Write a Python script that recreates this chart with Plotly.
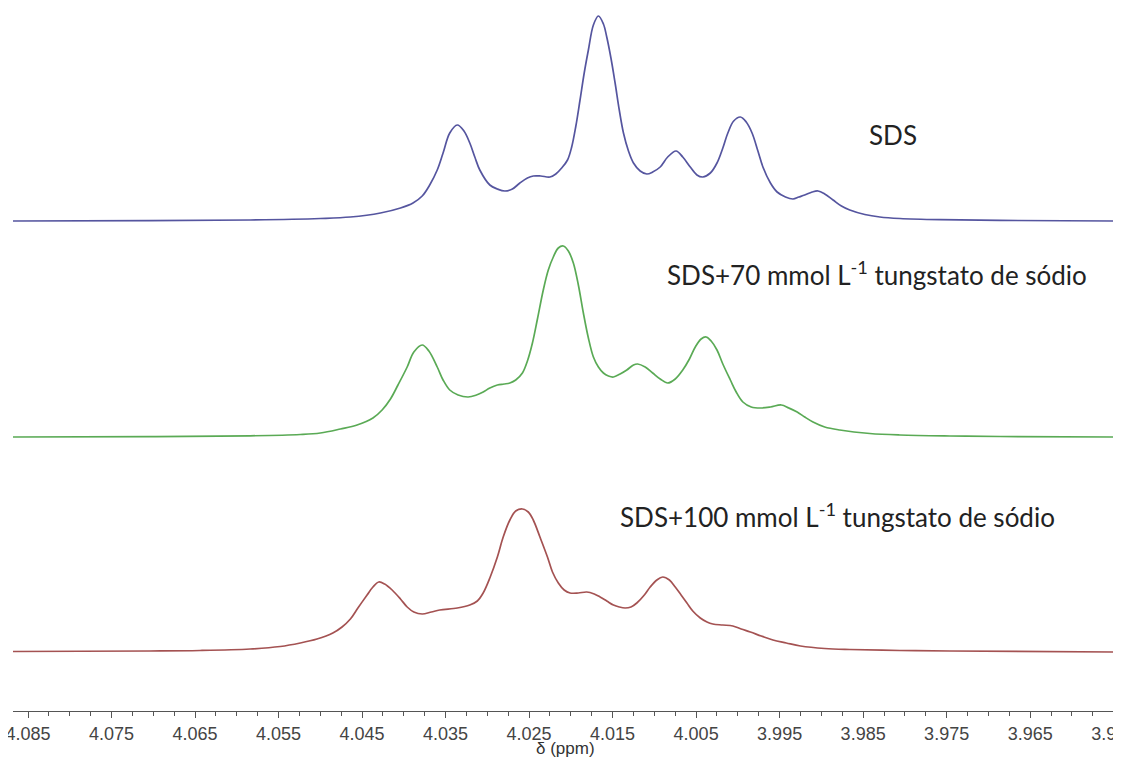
import plotly.graph_objects as go

# ---- data (ppm, intensity above each trace's own baseline) ----
sds_ppm = [4.0868, 4.0704, 4.0584, 4.0500, 4.0464, 4.0428, 4.0404, 4.0389, 4.0378, 4.0369,
           4.0360, 4.0353, 4.0345, 4.0336, 4.0328, 4.0321, 4.0315, 4.0309, 4.0297, 4.0288,
           4.0279, 4.0270, 4.0261, 4.0252, 4.0245, 4.0236, 4.0225, 4.0218, 4.0211, 4.0204,
           4.0199, 4.0194, 4.0189, 4.0184, 4.0179, 4.0173, 4.0167, 4.0161, 4.0157, 4.0152,
           4.0147, 4.0142, 4.0137, 4.0131, 4.0125, 4.0117, 4.0109, 4.0102, 4.0093, 4.0084,
           4.0074, 4.0066, 4.0057, 4.0049, 4.0042, 4.0033, 4.0025, 4.0018, 4.0012, 4.0005,
           3.9997, 3.9990, 3.9983, 3.9976, 3.9970, 3.9961, 3.9953, 3.9943, 3.9934, 3.9927,
           3.9920, 3.9911, 3.9904, 3.9896, 3.9886, 3.9876, 3.9866, 3.9848, 3.9830, 3.9806,
           3.9758, 3.9686, 3.9546]
sds_int = [0, 0.3, 1, 2.5, 4, 8, 13, 18, 25, 36,
           51, 68, 88, 96, 90, 78, 64, 51, 36, 32,
           30, 32, 38, 43, 45, 45, 44, 47, 53, 61,
           74, 95, 121, 148, 171, 196, 205, 197, 184, 163,
           138, 111, 88, 70, 58, 50, 47, 49, 54, 64,
           70, 64, 54, 46, 44, 48, 58, 73, 88, 100,
           104, 99, 88, 70, 54, 38, 29, 24, 22, 24,
           26, 29, 30, 27, 21, 15, 11, 6.5, 4, 2.5,
           1.3, 0.6, 0]

w70_ppm = [4.0868, 4.0704, 4.0584, 4.0524, 4.0500, 4.0476, 4.0456, 4.0437, 4.0426, 4.0416,
           4.0407, 4.0396, 4.0388, 4.0378, 4.0370, 4.0360, 4.0353, 4.0345, 4.0335, 4.0323,
           4.0313, 4.0305, 4.0297, 4.0288, 4.0280, 4.0273, 4.0266, 4.0258, 4.0252, 4.0246,
           4.0240, 4.0233, 4.0227, 4.0221, 4.0215, 4.0209, 4.0203, 4.0197, 4.0191, 4.0185,
           4.0179, 4.0173, 4.0167, 4.0161, 4.0155, 4.0149, 4.0141, 4.0133, 4.0125, 4.0120,
           4.0111, 4.0102, 4.0093, 4.0084, 4.0075, 4.0066, 4.0058, 4.0051, 4.0044, 4.0038,
           4.0032, 4.0025, 4.0018, 4.0009, 4.0002, 3.9994, 3.9984, 3.9973, 3.9961, 3.9948,
           3.9939, 3.9929, 3.9920, 3.9910, 3.9896, 3.9878, 3.9842, 3.9806, 3.9746, 3.9686,
           3.9546]
w70_int = [0, 0.4, 1.2, 2.5, 4, 8, 12, 19, 27, 38,
           52, 70, 85, 92, 86, 70, 57, 47, 42, 40,
           42, 45, 49, 52, 53, 54, 57, 64, 76, 94,
           118, 147, 167, 180, 189, 191, 186, 174, 152, 124,
           99, 80, 70, 64, 61, 60, 63, 67, 72, 73,
           70, 64, 58, 54, 58, 67, 78, 90, 98, 100,
           96, 87, 73, 57, 45, 35, 30, 29, 30, 32,
           29, 25, 20, 15, 10, 7, 3.5, 2, 1, 0.5,
           0]

w100_ppm = [4.0868, 4.0704, 4.0644, 4.0584, 4.0548, 4.0524, 4.0504, 4.0485, 4.0474, 4.0464,
            4.0455, 4.0444, 4.0437, 4.0430, 4.0423, 4.0414, 4.0404, 4.0396, 4.0388, 4.0378,
            4.0367, 4.0357, 4.0336, 4.0321, 4.0312, 4.0305, 4.0297, 4.0288, 4.0281, 4.0273,
            4.0266, 4.0258, 4.0251, 4.0245, 4.0237, 4.0228, 4.0222, 4.0215, 4.0208, 4.0201,
            4.0191, 4.0181, 4.0172, 4.0165, 4.0157, 4.0149, 4.0142, 4.0135, 4.0128, 4.0121,
            4.0112, 4.0105, 4.0097, 4.0090, 4.0082, 4.0075, 4.0068, 4.0061, 4.0054, 4.0045,
            4.0037, 4.0030, 4.0018, 4.0006, 3.9996, 3.9985, 3.9972, 3.9958, 3.9942, 3.9925,
            3.9896, 3.9866, 3.9806, 3.9746, 3.9546]
w100_int = [0.5, 1, 1.5, 3, 5.5, 9, 13, 19, 25, 33,
            44, 57, 65, 70, 68, 62, 53, 45, 40, 38,
            40, 42, 44, 47, 51, 59, 74, 95, 115, 132,
            141, 143, 140, 132, 115, 95, 80, 69, 62, 59,
            59, 60, 58, 55, 51, 47, 45, 44, 45, 49,
            57, 65, 72, 75, 72, 65, 57, 49, 41, 34,
            30, 28, 27, 26, 23, 20, 16, 12, 9, 6,
            3.5, 2.5, 1.5, 1, 0]

labels = ["SDS",
          "SDS+70 mmol L<sup>-1</sup> tungstato de sódio",
          "SDS+100 mmol L<sup>-1</sup> tungstato de sódio"]

# stacking offsets (baseline of each trace), label anchors and styles
offsets = [490, 274, 59]
label_pos = [(3.9845, 86), (4.0087, 164), (4.0143, 137)]
colors = ["#55559f", "#5aaa55", "#a45252"]

fig = go.Figure()
series = [(sds_ppm, sds_int), (w70_ppm, w70_int), (w100_ppm, w100_int)]
for (xs, ys), off, col, name in zip(series, offsets, colors, labels):
    fig.add_trace(go.Scatter(
        x=xs, y=[v + off for v in ys], mode="lines",
        line=dict(color=col, width=1.7, shape="spline", smoothing=1.0),
        name=name, showlegend=False, hoverinfo="skip"))

for (px, h), off, name in zip(label_pos, offsets, labels):
    fig.add_annotation(x=px, y=off + h, xref="x", yref="y", text=name,
                       showarrow=False, xanchor="left", yanchor="middle",
                       font=dict(family="Lato, Open Sans, sans-serif", size=26, color="#222222"))

# axis title (placed below the tick labels)
fig.add_annotation(x=0.5, y=-38 / 703, xref="paper", yref="paper", text="δ (ppm)",
                   showarrow=False, xanchor="center", yanchor="middle",
                   font=dict(family="Liberation Sans, Arial, sans-serif", size=17, color="#333333"))

fig.update_xaxes(
    range=[4.0868, 3.9546], tick0=4.085, dtick=0.01, tickformat=".3f",
    showline=True, linecolor="#555555", linewidth=1.3,
    ticks="outside", ticklen=6, tickcolor="#555555", tickwidth=1.2,
    minor=dict(dtick=0.0025, tick0=4.085, ticks="outside", ticklen=4, tickcolor="#555555"),
    showgrid=False, zeroline=False, ticklabeloverflow="allow",
    tickfont=dict(family="Liberation Sans, Arial, sans-serif", size=18, color="#444444"),
    automargin=False)
fig.update_yaxes(range=[0, 703], visible=False, showgrid=False, zeroline=False)

# page body has an 8px margin: figure is placed at (8, 8)
fig.update_layout(width=1113, height=750,
                  margin=dict(l=5, r=4, t=0, b=47),
                  plot_bgcolor="white", paper_bgcolor="white")

fig.write_html("out.html")
